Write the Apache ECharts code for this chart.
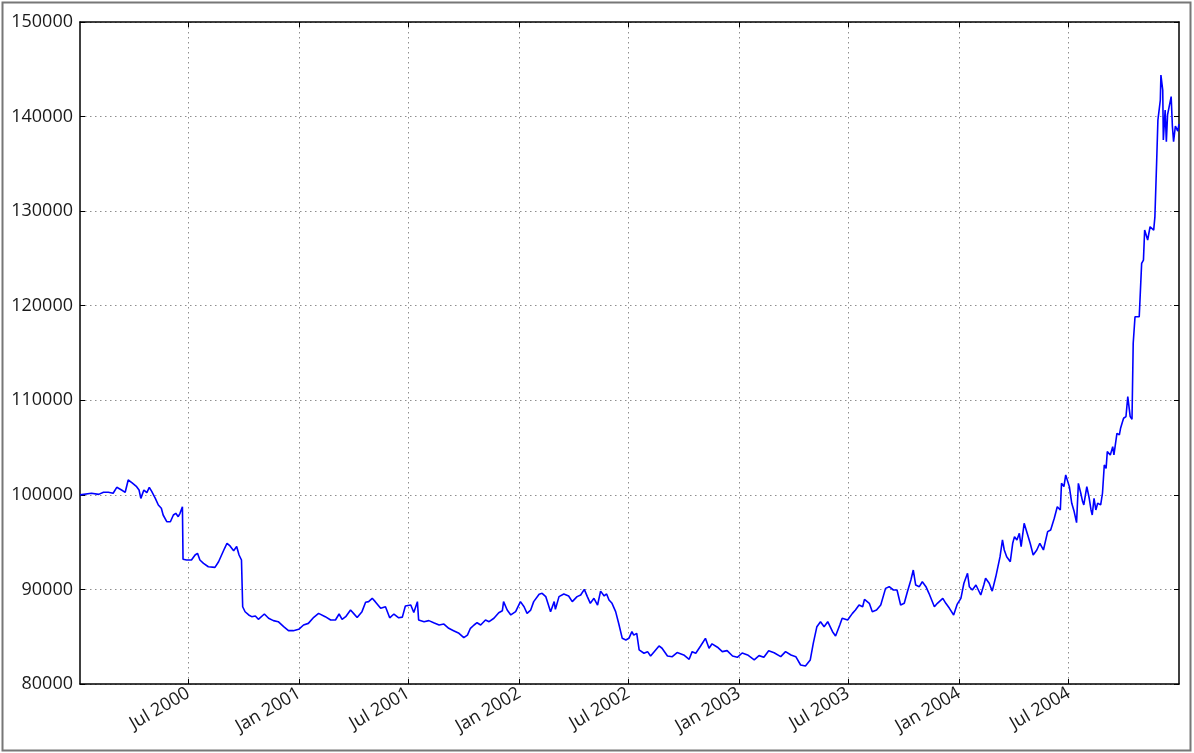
<!DOCTYPE html>
<html>
<head>
<meta charset="utf-8">
<script src="https://cdn.jsdelivr.net/npm/echarts@6/dist/echarts.min.js"></script>
<style>
html,body{margin:0;padding:0;background:#fff;}
#chart{width:1194px;height:753px;}
</style>
</head>
<body>
<div id="chart"></div>
<script>
// ---- data ----
const tickDates = ['2000-07-01','2001-01-01','2001-07-01','2002-01-01','2002-07-01','2003-01-01','2003-07-01','2004-01-01','2004-07-01'];
const tickLabels = ['Jul 2000','Jan 2001','Jul 2001','Jan 2002','Jul 2002','Jan 2003','Jul 2003','Jan 2004','Jul 2004'];
const yTicks = [80000, 90000, 100000, 110000, 120000, 130000, 140000, 150000];

const values2000 = [
['2000-01-03',100000],['2000-01-22',100170],['2000-02-03',100050],['2000-02-11',100270],['2000-02-19',100270],
['2000-02-27',100170],['2000-03-04',100800],['2000-03-12',100510],['2000-03-18',100270],['2000-03-23',101570],
['2000-03-29',101290],['2000-04-06',100860],['2000-04-10',100510],['2000-04-13',99630],['2000-04-18',100510],
['2000-04-23',100230],['2000-04-27',100800],['2000-05-01',100360],['2000-05-07',99630],['2000-05-12',98930],
['2000-05-17',98580],['2000-05-20',97870],['2000-05-26',97160],['2000-06-01',97160],['2000-06-06',97870],
['2000-06-10',98050],['2000-06-14',97690],['2000-06-17',98050],['2000-06-21',98750],['2000-06-22',93190],
['2000-06-28',93110],['2000-07-06',93110],['2000-07-12',93640],['2000-07-16',93820],['2000-07-20',93110],
['2000-07-26',92760],['2000-08-03',92400],['2000-08-14',92330],['2000-08-20',92930],['2000-08-25',93640],
['2000-08-30',94350],['2000-09-03',94880],['2000-09-08',94600],['2000-09-14',94100],['2000-09-19',94530],
['2000-09-23',93640],['2000-09-27',93110],['2000-09-29',88170],['2000-10-03',87640],['2000-10-09',87300],
['2000-10-14',87120],['2000-10-20',87190],['2000-10-25',86840],['2000-11-04',87400],['2000-11-11',86950],
['2000-11-19',86700],['2000-11-27',86590],['2000-12-06',86060],['2000-12-14',85640],['2000-12-22',85640],
['2000-12-31',85780]
];
const values2001 = [
['2001-01-08',86240],['2001-01-16',86410],['2001-01-25',87050],['2001-02-02',87470],['2001-02-13',87120],
['2001-02-22',86770],['2001-03-02',86770],['2001-03-08',87400],['2001-03-13',86840],['2001-03-19',87120],
['2001-03-27',87820],['2001-04-01',87470],['2001-04-07',87030],['2001-04-15',87650],['2001-04-21',88640],
['2001-04-26',88710],['2001-05-02',89060],['2001-05-07',88710],['2001-05-16',88000],['2001-05-24',88170],
['2001-05-31',87000],['2001-06-07',87400],['2001-06-15',87000],['2001-06-21',87070],['2001-06-26',88250],
['2001-07-05',88350],['2001-07-10',87560],['2001-07-16',88710],['2001-07-18',86770],['2001-07-27',86590],
['2001-08-04',86700],['2001-08-12',86480],['2001-08-21',86240],['2001-08-29',86340],['2001-09-06',85890],
['2001-09-14',85640],['2001-09-23',85360],['2001-10-01',84900],['2001-10-07',85170],['2001-10-12',85890],
['2001-10-18',86240],['2001-10-23',86480],['2001-10-29',86240],['2001-11-06',86770],['2001-11-12',86590],
['2001-11-20',86950],['2001-11-28',87540],['2001-12-04',87750],['2001-12-06',88710],['2001-12-12',87820],
['2001-12-18',87300],['2001-12-26',87650]
];
const values2002 = [
['2002-01-03',88710],['2002-01-09',88170],['2002-01-14',87470],['2002-01-20',87820],['2002-01-25',88710],
['2002-02-03',89500],['2002-02-08',89590],['2002-02-14',89240],['2002-02-22',87650],['2002-02-28',88710],
['2002-03-02',87890],['2002-03-08',89240],['2002-03-16',89520],['2002-03-24',89310],['2002-03-30',88710],
['2002-04-07',89240],['2002-04-13',89410],['2002-04-19',90010],['2002-04-24',89240],['2002-04-29',88530],
['2002-05-05',89060],['2002-05-11',88350],['2002-05-16',89820],['2002-05-22',89310],['2002-05-26',89520],
['2002-05-30',88890],['2002-06-04',88530],['2002-06-10',87650],['2002-06-15',86420],['2002-06-21',84830],
['2002-06-27',84660],['2002-07-02',84830],['2002-07-07',85530],['2002-07-10',85170],['2002-07-15',85350],
['2002-07-19',83600],['2002-07-27',83250],['2002-08-02',83420],['2002-08-07',82960],['2002-08-13',83420],
['2002-08-21',84020],['2002-08-26',83780],['2002-09-04',82960],['2002-09-12',82890],['2002-09-20',83320],
['2002-10-01',83070],['2002-10-10',82610],['2002-10-15',83420],['2002-10-21',83250],['2002-10-29',84020],
['2002-11-06',84830],['2002-11-12',83780],['2002-11-17',84250],['2002-11-26',83890],['2002-12-04',83420],
['2002-12-12',83530],['2002-12-21',82960],['2002-12-29',82820]
];
const values2003 = [
['2003-01-06',83280],['2003-01-15',83070],['2003-01-26',82560],['2003-02-03',83000],['2003-02-11',82820],
['2003-02-19',83520],['2003-02-28',83310],['2003-03-11',82890],['2003-03-19',83420],['2003-03-28',83070],
['2003-04-05',82890],['2003-04-13',82010],['2003-04-21',81900],['2003-04-29',82540],['2003-05-04',84300],
['2003-05-10',86060],['2003-05-16',86590],['2003-05-22',86060],['2003-05-28',86590],['2003-06-05',85530],
['2003-06-10',85070],['2003-06-17',86240],['2003-06-21',86950],['2003-06-30',86770],['2003-07-08',87470],
['2003-07-13',87820],['2003-07-19',88350],['2003-07-25',88170],['2003-07-28',88950],['2003-08-05',88530],
['2003-08-10',87650],['2003-08-17',87820],['2003-08-24',88350],['2003-09-01',90110],['2003-09-07',90290],
['2003-09-14',89940],['2003-09-20',89940],['2003-09-26',88350],['2003-10-02',88530],['2003-10-07',89700],
['2003-10-13',91000],['2003-10-17',92050],['2003-10-21',90460],['2003-10-27',90290],['2003-11-01',90810],
['2003-11-07',90290],['2003-11-12',89590],['2003-11-21',88170],['2003-11-26',88530],['2003-12-05',89060],
['2003-12-10',88530],['2003-12-16',88000],['2003-12-23',87300],['2003-12-29',88450]
];
const values2004 = [
['2004-01-04',89060],['2004-01-09',90650],['2004-01-15',91710],['2004-01-18',90290],['2004-01-23',89940],
['2004-01-29',90470],['2004-02-06',89410],['2004-02-11',90470],['2004-02-14',91180],['2004-02-20',90650],
['2004-02-25',89820],['2004-03-02',91360],['2004-03-05',91530],['2004-03-09',93460],['2004-03-13',95230],
['2004-03-16',94170],['2004-03-20',93460],['2004-03-26',92930],['2004-03-30',94880],['2004-04-02',95580],
['2004-04-06',95230],['2004-04-10',95930],['2004-04-13',94530],['2004-04-18',96990],['2004-04-23',95930],
['2004-04-28',94880],['2004-05-03',93640],['2004-05-09',94170],['2004-05-14',94880],['2004-05-20',94170],
['2004-05-27',96110],['2004-06-01',96290],['2004-06-07',97520],['2004-06-12',98750],['2004-06-17',98400],
['2004-06-19',101220],['2004-06-23',100870],['2004-06-26',102100],['2004-07-02',100870],['2004-07-06',99110],
['2004-07-10',98230],['2004-07-14',97060],['2004-07-17',101220],['2004-07-21',100170],['2004-07-24',99290],
['2004-07-26',98940],['2004-07-31',100870],['2004-08-04',99640],['2004-08-07',98400],['2004-08-09',97870],
['2004-08-12',99640],['2004-08-15',98400],['2004-08-18',99110],['2004-08-23',98940],['2004-08-26',100170],
['2004-08-29',103160],['2004-09-01',102800],['2004-09-03',104570],['2004-09-08',104220],['2004-09-12',105100],
['2004-09-14',104220],['2004-09-19',106510],['2004-09-23',106340],['2004-09-25',107040],['2004-09-30',108100],
['2004-10-04',108280],['2004-10-07',110380],['2004-10-11',108270],['2004-10-14',108000],['2004-10-16',116030],
['2004-10-19',118840],['2004-10-22',119000],['2004-10-26',118840],['2004-10-30',124480],['2004-11-02',124830],
['2004-11-04',128000],['2004-11-09',126950],['2004-11-13',128350],['2004-11-19',128000],['2004-11-21',129400],
['2004-11-24',135410],['2004-11-26',139630],['2004-11-30',141750],['2004-12-01',144390],['2004-12-04',142810],
['2004-12-05',137520],['2004-12-08',140690],['2004-12-10',137350],['2004-12-12',140170],['2004-12-15',140000],
['2004-12-18',142110],['2004-12-20',139000],['2004-12-22',137350],['2004-12-25',139000],['2004-12-29',138470],
['2004-12-31',139200]
];
const xStart = '2000-01-03';
const xEnd = '2004-12-31';

// ---- build ----
function toTime(s) {
  const p = s.split('-').map(Number);
  return Date.UTC(p[0], p[1] - 1, p[2]);
}
const series = [].concat(values2000, values2001, values2002, values2003, values2004)
  .map(function (d) { return [toTime(d[0]), d[1]]; });
const tickTimes = tickDates.map(toTime);
const minT = toTime(xStart);
const maxT = toTime(xEnd);

const textColor = '#1a1a1a';
const fontFam = '"Open Sans", "Noto Sans", sans-serif';
const frame = { show: true, onZero: false, lineStyle: { color: '#000', width: 1.5 } };
const dotted = { show: true, lineStyle: { color: '#8e8e8e', width: 1, type: [1.5, 3.5] } };

const chart = echarts.init(document.getElementById('chart'), null, { renderer: 'canvas' });
chart.setOption({
  animation: false,
  backgroundColor: '#fff',
  graphic: [{
    type: 'rect', silent: true, z: -1,
    shape: { x: 2.5, y: 2.5, width: 1188, height: 748 },
    style: { fill: 'none', stroke: '#777', lineWidth: 2 }
  }],
  grid: { left: 80, right: 15, top: 22, bottom: 69, containLabel: false },
  xAxis: [{
    type: 'value', position: 'bottom', min: minT, max: maxT, scale: true,
    axisLine: frame,
    axisTick: { show: true, inside: true, length: 5, customValues: tickTimes, lineStyle: { color: '#000', width: 1 } },
    axisLabel: {
      show: true, customValues: tickTimes, rotate: 30, margin: 8,
      color: textColor, fontSize: 18, fontFamily: fontFam,
      formatter: function (v) { const i = tickTimes.indexOf(v); return i >= 0 ? tickLabels[i] : ''; }
    },
    splitLine: dotted
  }, {
    type: 'value', position: 'top', min: minT, max: maxT, scale: true,
    axisLine: frame,
    axisTick: { show: true, inside: true, length: 5, customValues: tickTimes, lineStyle: { color: '#000', width: 1 } },
    axisLabel: { show: false },
    splitLine: { show: false }
  }],
  yAxis: [{
    type: 'value', position: 'left', min: yTicks[0], max: yTicks[yTicks.length - 1], interval: 10000,
    axisLine: frame,
    axisTick: { show: true, inside: true, length: 5, lineStyle: { color: '#000', width: 1 } },
    axisLabel: { color: textColor, fontSize: 18, fontFamily: fontFam, margin: 7,
      formatter: function (v) { return String(v); } },
    splitLine: dotted
  }, {
    type: 'value', position: 'right', min: yTicks[0], max: yTicks[yTicks.length - 1], interval: 10000,
    axisLine: frame,
    axisTick: { show: true, inside: true, length: 5, lineStyle: { color: '#000', width: 1 } },
    axisLabel: { show: false },
    splitLine: { show: false }
  }],
  series: [{
    type: 'line', xAxisIndex: 0, yAxisIndex: 0,
    data: series, showSymbol: false, symbol: 'none', smooth: false,
    lineStyle: { color: '#0000ff', width: 1.6 },
    clip: true
  }]
});
</script>
</body>
</html>
